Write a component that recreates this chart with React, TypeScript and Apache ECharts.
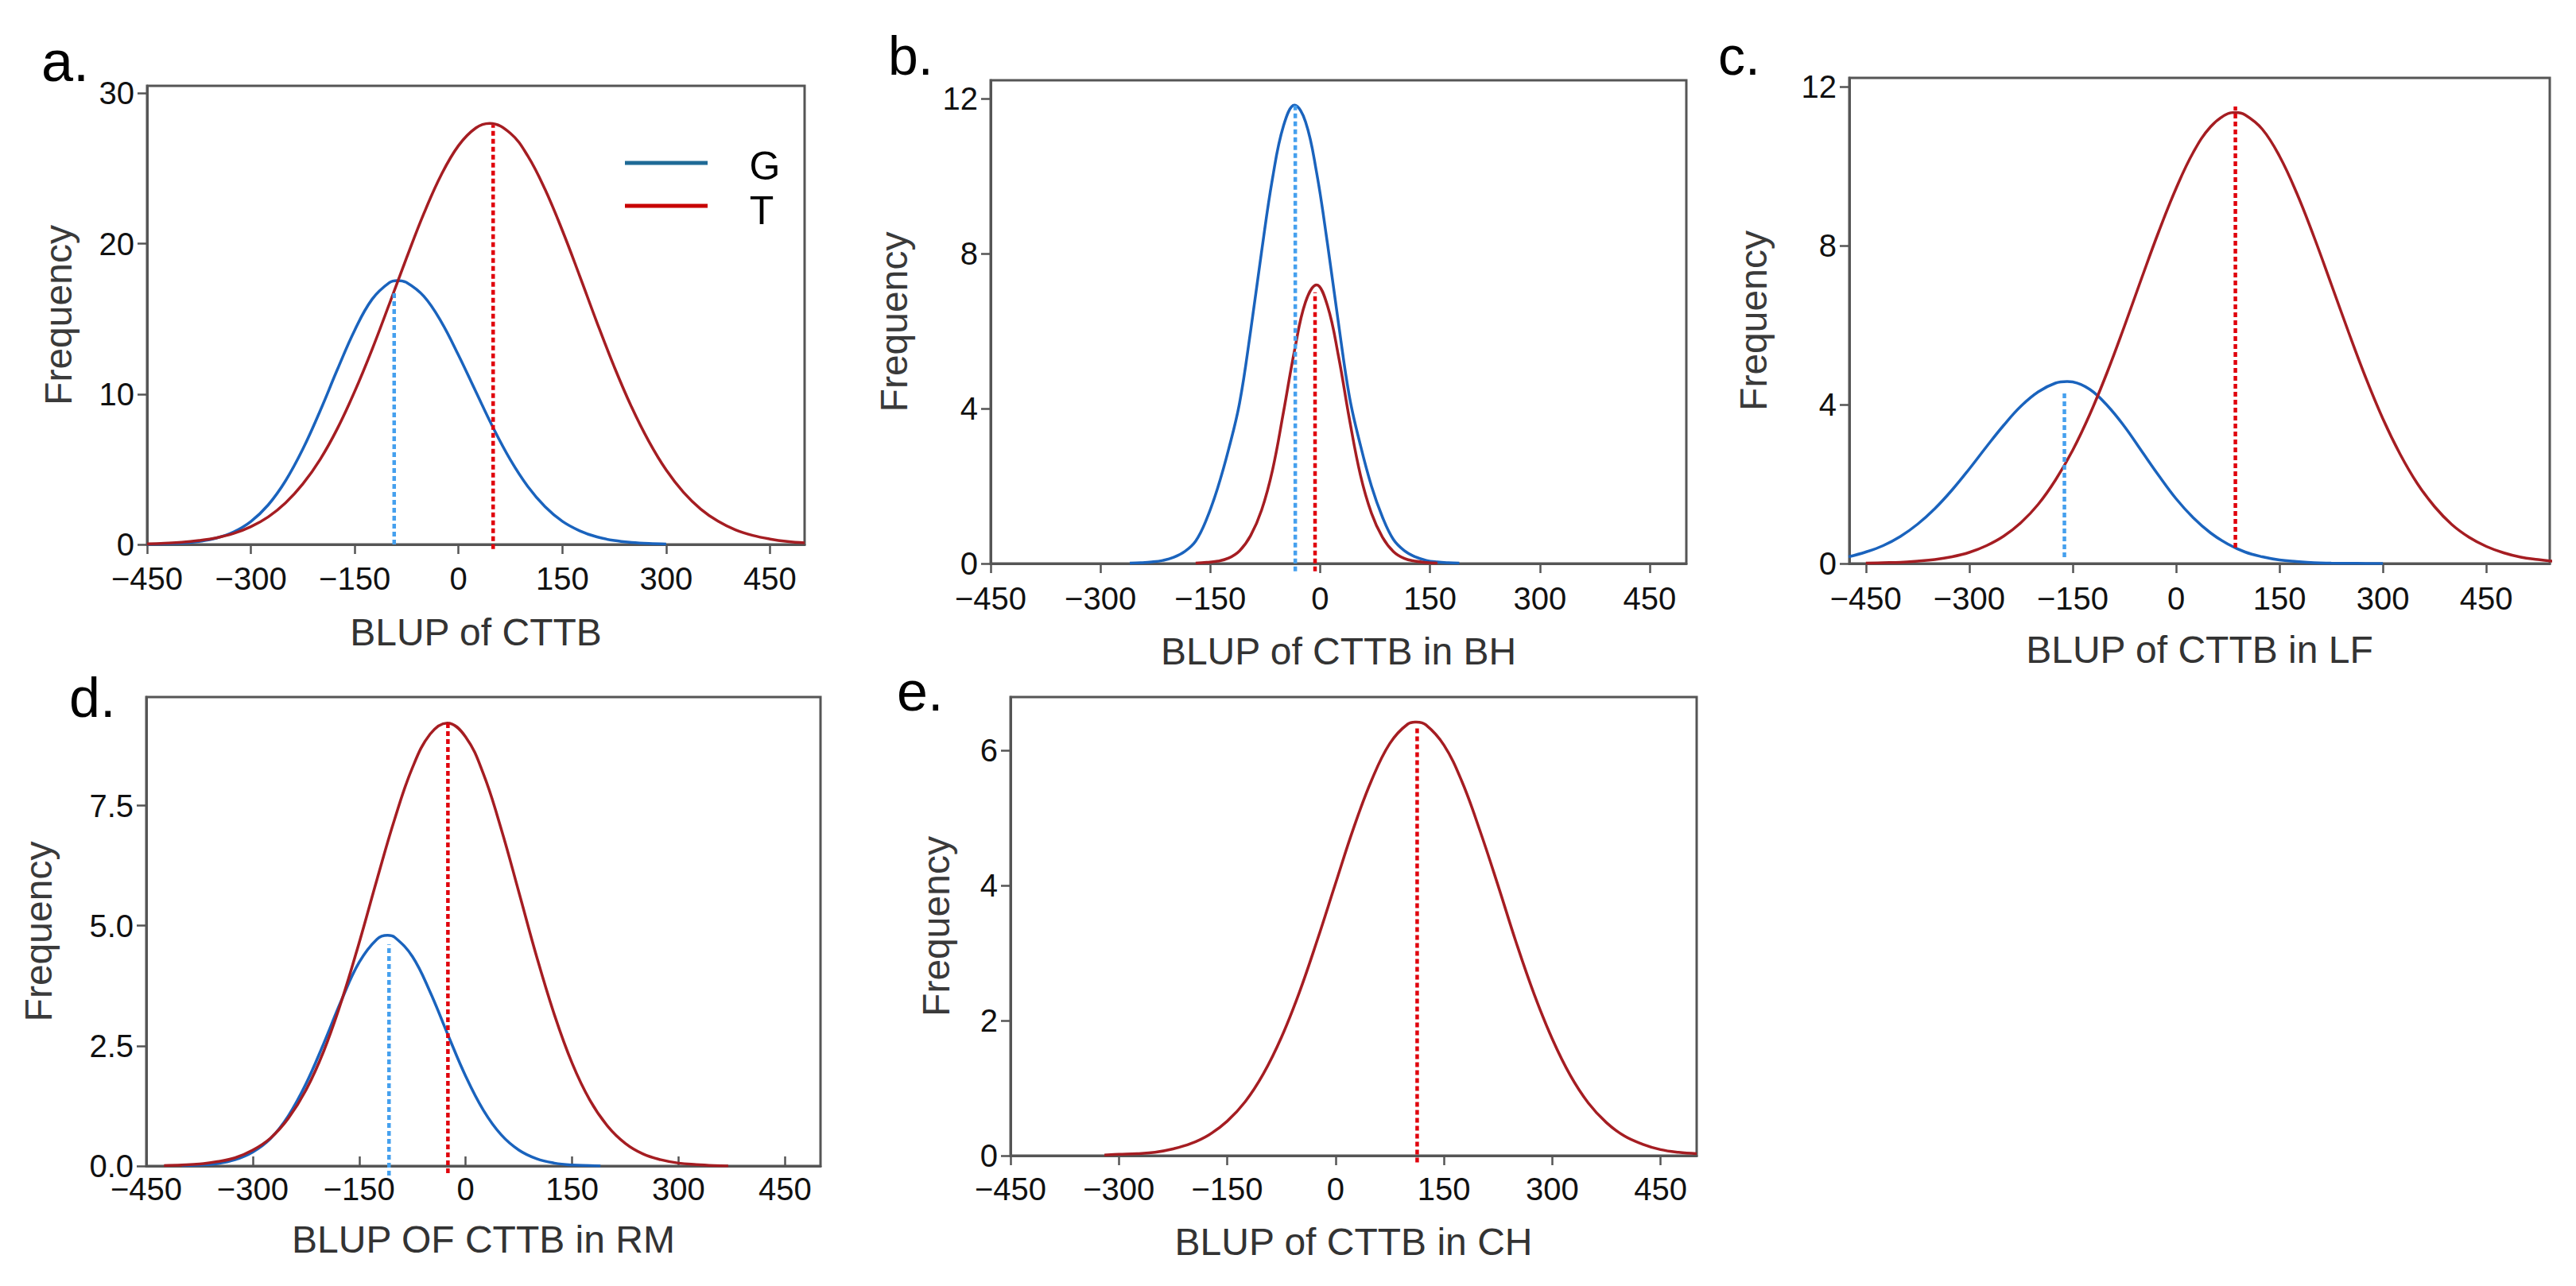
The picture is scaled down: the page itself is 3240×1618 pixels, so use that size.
import React, { useEffect, useRef } from 'react';
import * as echarts from 'echarts';

// shared x ticks
const X_TICKS = [-450, -300, -150, 0, 150, 300, 450];

// a. BLUP of CTTB
const aGx = [-450, -425, -400, -375, -350, -325, -300, -275, -250, -225, -200, -175, -150, -125, -100, -88, -75, -50, -25, 0, 25, 50, 75, 100, 125, 150, 175, 200, 225, 250, 275, 300];
const aGy = [0.01, 0.04, 0.09, 0.2, 0.42, 0.83, 1.53, 2.63, 4.23, 6.34, 8.88, 11.64, 14.25, 16.3, 17.41, 17.55, 17.42, 16.5, 14.81, 12.58, 10.16, 7.76, 5.62, 3.86, 2.51, 1.54, 0.91, 0.5, 0.26, 0.13, 0.06, 0.03];
const aTx = [-450, -425, -400, -375, -350, -325, -300, -275, -250, -225, -200, -175, -150, -125, -100, -75, -50, -25, 0, 25, 45, 75, 100, 125, 150, 175, 200, 225, 250, 275, 300, 325, 350, 375, 400, 425, 450, 475, 500];
const aTy = [0.04, 0.08, 0.14, 0.26, 0.44, 0.73, 1.18, 1.83, 2.76, 4.02, 5.65, 7.71, 10.18, 12.96, 15.99, 19.07, 22.02, 24.58, 26.53, 27.7, 28.0, 27.34, 25.84, 23.61, 20.88, 17.86, 14.76, 11.81, 9.14, 6.85, 4.95, 3.47, 2.35, 1.54, 0.97, 0.6, 0.36, 0.2, 0.11];
const aMeanG = [-93, 0, 16.8];
const aMeanT = [50, -0.3, 27.9];
const aYTicks = [0, 10, 20, 30];

// b. BLUP of CTTB in BH
const bGx = [-260, -245, -230, -215, -200, -185, -170, -155, -140, -125, -110, -95, -80, -65, -50, -35, -20, -5, 10, 25, 40, 55, 70, 85, 100, 115, 130, 145, 160, 175, 190];
const bGy = [0.01, 0.02, 0.04, 0.08, 0.16, 0.31, 0.58, 1.15, 1.95, 2.95, 4.15, 6.0, 8.05, 9.95, 11.3, 11.83, 11.4, 10.1, 8.25, 6.2, 4.3, 3.05, 2.0, 1.2, 0.62, 0.33, 0.17, 0.08, 0.04, 0.02, 0.01];
const bTx = [-170, -155, -140, -125, -110, -95, -80, -65, -50, -35, -20, -5, 10, 25, 40, 55, 70, 85, 100, 115, 130, 145, 160];
const bTy = [0.01, 0.03, 0.06, 0.14, 0.33, 0.72, 1.38, 2.42, 3.92, 5.5, 6.75, 7.19, 6.65, 5.35, 3.72, 2.28, 1.3, 0.68, 0.31, 0.13, 0.06, 0.025, 0.01];
const bMeanG = [-34, -0.2, 11.87];
const bMeanT = [-7, -0.2, 7.0];
const bYTicks = [0, 4, 8, 12];

// c. BLUP of CTTB in LF
const cGx = [-475, -450, -425, -400, -375, -350, -325, -300, -275, -250, -225, -200, -175, -158, -150, -125, -100, -75, -50, -25, 0, 25, 50, 75, 100, 125, 150, 175, 200, 225, 250, 275, 300];
const cGy = [0.17, 0.29, 0.45, 0.68, 0.99, 1.38, 1.85, 2.38, 2.94, 3.48, 3.96, 4.32, 4.54, 4.58, 4.57, 4.38, 3.98, 3.45, 2.83, 2.21, 1.63, 1.15, 0.77, 0.49, 0.29, 0.17, 0.09, 0.05, 0.02, 0.01, 0.005, 0.002, 0];
const cTx = [-450, -425, -400, -375, -350, -325, -300, -275, -250, -225, -200, -175, -150, -125, -100, -75, -50, -25, 0, 25, 50, 75, 86, 100, 125, 150, 175, 200, 225, 250, 275, 300, 325, 350, 375, 400, 425, 450, 475, 500, 525, 550];
const cTy = [0.01, 0.02, 0.03, 0.06, 0.1, 0.17, 0.28, 0.45, 0.69, 1.03, 1.49, 2.1, 2.85, 3.76, 4.81, 5.97, 7.18, 8.36, 9.44, 10.35, 10.99, 11.32, 11.35, 11.29, 10.93, 10.25, 9.32, 8.22, 7.03, 5.83, 4.68, 3.64, 2.75, 2.01, 1.43, 0.98, 0.66, 0.43, 0.27, 0.16, 0.1, 0.05];
const cMeanG = [-162, 0.16, 4.3];
const cMeanT = [86, 0.4, 11.5];
const cYTicks = [0, 4, 8, 12];

// d. BLUP OF CTTB in RM
const dGx = [-400, -375, -350, -325, -300, -275, -250, -225, -200, -175, -150, -125, -110, -100, -75, -50, -25, 0, 25, 50, 75, 100, 125, 150, 175, 190];
const dGy = [0.01, 0.02, 0.05, 0.13, 0.29, 0.57, 1.04, 1.71, 2.55, 3.45, 4.24, 4.72, 4.8, 4.76, 4.36, 3.62, 2.73, 1.87, 1.16, 0.65, 0.33, 0.15, 0.06, 0.02, 0.01, 0];
const dTx = [-425, -400, -375, -350, -325, -300, -275, -250, -225, -200, -175, -150, -125, -100, -75, -50, -26, 0, 25, 50, 75, 100, 125, 150, 175, 200, 225, 250, 275, 300, 325, 350, 370];
const dTy = [0.01, 0.02, 0.04, 0.09, 0.17, 0.33, 0.58, 0.99, 1.58, 2.39, 3.43, 4.65, 5.96, 7.22, 8.29, 8.99, 9.22, 8.93, 8.16, 7.02, 5.7, 4.36, 3.15, 2.14, 1.37, 0.83, 0.47, 0.25, 0.13, 0.06, 0.03, 0.01, 0];
const dMeanG = [-108, -0.2, 4.61];
const dMeanT = [-25, -0.15, 9.22];
const dYTicks = [0, 2.5, 5, 7.5];

// e. BLUP of CTTB in CH
const eTx = [-320, -300, -275, -250, -225, -200, -175, -150, -125, -100, -75, -50, -25, 0, 25, 50, 75, 100, 112, 125, 150, 175, 200, 225, 250, 275, 300, 325, 350, 375, 400, 425, 450, 475, 500];
const eTy = [0.01, 0.02, 0.03, 0.05, 0.1, 0.18, 0.31, 0.51, 0.8, 1.21, 1.75, 2.42, 3.2, 4.03, 4.85, 5.56, 6.1, 6.39, 6.42, 6.38, 6.08, 5.54, 4.81, 4.0, 3.16, 2.39, 1.73, 1.19, 0.78, 0.49, 0.29, 0.17, 0.09, 0.05, 0.03];
const eMeanT = [113, -0.1, 6.37];
const eYTicks = [0, 2, 4, 6];

const FONT = "'Liberation Sans', Arial, Helvetica, sans-serif";
const BLUE = '#1a63bd';
const RED = '#a51d22';
const BLUE_DOT = '#45a0ee';
const RED_DOT = '#e0000c';
const AXIS = '#555555';

const pairs = (xs: number[], ys: number[]) => xs.map((x, i) => [x, ys[i]]);
const minus = (v: number) => (v < 0 ? '\u2212' + Math.abs(v) : String(v));

interface Panel {
  letter: string;
  rect: [number, number, number, number];
  xMin: number;
  xMax: number;
  yMax: number;
  yTicks: number[];
  yFmt: (v: number) => string;
  xName: string;
  xNameGap: number;
  yNameGap: number;
  xLabelMargin: number;
  xTickInside: boolean;
  G?: number[][];
  T: number[][];
  meanG?: number[];
  meanT: number[];
}

const panels: Panel[] = [
  {
    letter: 'a', rect: [185, 108, 827, 577], xMin: -450, xMax: 500, yMax: 30.5, yTicks: aYTicks,
    yFmt: minus, xName: 'BLUP of CTTB', xNameGap: 110, yNameGap: 112, xLabelMargin: 23, xTickInside: false,
    G: pairs(aGx, aGy), T: pairs(aTx, aTy), meanG: aMeanG, meanT: aMeanT
  },
  {
    letter: 'b', rect: [1246, 101, 875, 608], xMin: -450, xMax: 500, yMax: 12.47, yTicks: bYTicks,
    yFmt: minus, xName: 'BLUP of CTTB in BH', xNameGap: 110, yNameGap: 122, xLabelMargin: 24, xTickInside: false,
    G: pairs(bGx, bGy), T: pairs(bTx, bTy), meanG: bMeanG, meanT: bMeanT
  },
  {
    letter: 'c', rect: [2326, 98, 881, 611], xMin: -474, xMax: 542, yMax: 12.22, yTicks: cYTicks,
    yFmt: minus, xName: 'BLUP of CTTB in LF', xNameGap: 108, yNameGap: 121, xLabelMargin: 24, xTickInside: false,
    G: pairs(cGx, cGy), T: pairs(cTx, cTy), meanG: cMeanG, meanT: cMeanT
  },
  {
    letter: 'd', rect: [184, 877, 848, 590], xMin: -450, xMax: 500, yMax: 9.76, yTicks: dYTicks,
    yFmt: (v) => v.toFixed(1), xName: 'BLUP OF CTTB in RM', xNameGap: 92, yNameGap: 136, xLabelMargin: 9, xTickInside: true,
    G: pairs(dGx, dGy), T: pairs(dTx, dTy), meanG: dMeanG, meanT: dMeanT
  },
  {
    letter: 'e', rect: [1271, 877, 863, 577], xMin: -450, xMax: 500, yMax: 6.79, yTicks: eYTicks,
    yFmt: minus, xName: 'BLUP of CTTB in CH', xNameGap: 108, yNameGap: 94, xLabelMargin: 22, xTickInside: false,
    T: pairs(eTx, eTy), meanT: eMeanT
  }
];

// panel letters: [text, left x, centre y, size]
const letters: [string, number, number, number][] = [
  ['a.', 52, 77, 72],
  ['b.', 1117, 70, 68],
  ['c.', 2161, 70, 68],
  ['d.', 87, 878, 70],
  ['e.', 1128, 870, 70]
];

const App: React.FC = () => {
  const ref = useRef<HTMLDivElement>(null);

  useEffect(() => {
    if (!ref.current) return;
    const chart = echarts.init(ref.current, null, { renderer: 'svg' });

    const grid: any[] = [];
    const xAxis: any[] = [];
    const yAxis: any[] = [];
    const series: any[] = [];

    panels.forEach((p, i) => {
      const [left, top, width, height] = p.rect;
      grid.push({ left, top, width, height, show: true, borderColor: AXIS, borderWidth: 3, backgroundColor: 'transparent' });

      xAxis.push({
        gridIndex: i,
        type: 'value',
        min: p.xMin,
        max: p.xMax,
        name: p.xName,
        nameLocation: 'middle',
        nameGap: p.xNameGap,
        nameTextStyle: { fontSize: 48, color: '#333', fontFamily: FONT, verticalAlign: 'middle' },
        axisLine: { show: true, onZero: false, lineStyle: { color: AXIS, width: 3 } },
        axisTick: { show: true, inside: p.xTickInside, length: 12, customValues: X_TICKS, lineStyle: { color: AXIS, width: 2.5 } },
        axisLabel: { customValues: X_TICKS, fontSize: 40, color: '#111', fontFamily: FONT, margin: p.xLabelMargin, formatter: minus, hideOverlap: false },
        splitLine: { show: false }
      });

      yAxis.push({
        gridIndex: i,
        type: 'value',
        min: 0,
        max: p.yMax,
        name: 'Frequency',
        nameLocation: 'middle',
        nameRotate: 90,
        nameGap: p.yNameGap,
        nameTextStyle: { fontSize: 48, color: '#3a3a3a', fontFamily: FONT, verticalAlign: 'middle' },
        axisLine: { show: true, onZero: false, lineStyle: { color: AXIS, width: 3 } },
        axisTick: { show: true, length: 12, customValues: p.yTicks, lineStyle: { color: AXIS, width: 2.5 } },
        axisLabel: { customValues: p.yTicks, fontSize: 40, color: '#111', fontFamily: FONT, margin: 16, formatter: p.yFmt },
        splitLine: { show: false }
      });

      const curve = (data: number[][], color: string, z: number) => ({
        type: 'line',
        xAxisIndex: i,
        yAxisIndex: i,
        data,
        smooth: 0.4,
        showSymbol: false,
        symbol: 'none',
        silent: true,
        z,
        lineStyle: { color, width: 3.5 }
      });
      const mean = (m: number[], color: string) => ({
        type: 'line',
        xAxisIndex: i,
        yAxisIndex: i,
        data: [[m[0], m[1]], [m[0], m[2]]],
        showSymbol: false,
        symbol: 'none',
        silent: true,
        clip: false,
        z: 5,
        lineStyle: { color, width: 4.5, type: [6, 4] }
      });

      if (p.G) series.push(curve(p.G, BLUE, 2));
      series.push(curve(p.T, RED, 3));
      if (p.meanG) series.push(mean(p.meanG, BLUE_DOT));
      series.push(mean(p.meanT, RED_DOT));
    });

    const graphic: any[] = letters.map(([text, x, y, size]) => ({
      type: 'text',
      x,
      y,
      style: { text, fontSize: size, fontFamily: FONT, fill: '#000', textAlign: 'left', textVerticalAlign: 'middle' }
    }));

    // legend in panel a
    graphic.push(
      { type: 'line', shape: { x1: 786, y1: 205, x2: 890, y2: 205 }, style: { stroke: '#1f6a96', lineWidth: 5 } },
      { type: 'line', shape: { x1: 786, y1: 259, x2: 890, y2: 259 }, style: { stroke: '#c80000', lineWidth: 5 } },
      { type: 'text', x: 962, y: 209, style: { text: 'G', fontSize: 50, fontFamily: FONT, fill: '#000', textAlign: 'center', textVerticalAlign: 'middle' } },
      { type: 'text', x: 958, y: 265, style: { text: 'T', fontSize: 50, fontFamily: FONT, fill: '#000', textAlign: 'center', textVerticalAlign: 'middle' } }
    );

    chart.setOption({
      animation: false,
      backgroundColor: '#ffffff',
      grid,
      xAxis,
      yAxis,
      series,
      graphic
    });

    return () => {
      chart.dispose();
    };
  }, []);

  return (
    <div
      ref={ref}
      style={{ position: 'fixed', left: 0, top: 0, width: 3240, height: 1618, background: '#fff' }}
    />
  );
};

export default App;
